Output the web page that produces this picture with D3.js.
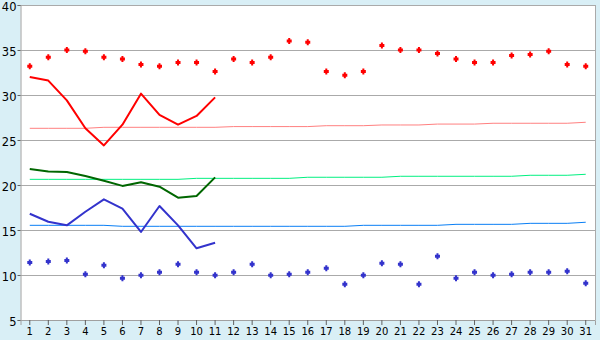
<!DOCTYPE html>
<html><head><meta charset="utf-8">
<script src="https://cdn.jsdelivr.net/npm/d3@7"></script>
<style>
html,body{margin:0;padding:0;background:#d9eff6;}
svg{display:block;}
</style></head>
<body>
<svg id="chart" width="600" height="340"></svg>
<script>
const days = d3.range(1, 32);
const yTicks = [5, 10, 15, 20, 25, 30, 35, 40];

// daily maximum (red markers)
const maxTemps = [33.2, 34.2, 35.0, 34.85, 34.2, 34.0, 33.4, 33.2, 33.6, 33.6, 32.6, 34.0, 33.6, 34.2, 36.0, 35.85,
  32.6, 32.2, 32.6, 35.5, 35.0, 35.0, 34.6, 34.0, 33.6, 33.6, 34.4, 34.5, 34.85, 33.4, 33.2];
// daily minimum (blue markers)
const minTemps = [11.4, 11.5, 11.6, 10.07, 11.08, 9.63, 9.97, 10.3, 11.19, 10.3, 9.97, 10.3, 11.19, 9.97, 10.07, 10.3,
  10.74, 8.97, 9.97, 11.3, 11.19, 8.97, 12.08, 9.63, 10.3, 9.97, 10.07, 10.3, 10.3, 10.41, 9.08];
// partial-month lines (days 1-11)
const redLine = [32.0, 31.6, 29.4, 26.3, 24.4, 26.7, 30.15, 27.8, 26.7, 27.67, 29.74];
const greenLine = [21.78, 21.5, 21.44, 21.0, 20.48, 19.9, 20.3, 19.81, 18.59, 18.78, 20.85];
const blueLine = [16.81, 15.92, 15.52, 17.03, 18.41, 17.37, 14.78, 17.67, 15.52, 12.97, 13.59];
// normals
const normalMax = [26.30, 26.30, 26.30, 26.30, 26.41, 26.41, 26.41, 26.41, 26.41, 26.41, 26.41, 26.49, 26.49, 26.49, 26.49, 26.49,
  26.59, 26.59, 26.59, 26.67, 26.67, 26.67, 26.77, 26.77, 26.77, 26.86, 26.86, 26.86, 26.86, 26.86, 26.97];
const normalMean = [20.63, 20.63, 20.63, 20.63, 20.63, 20.63, 20.63, 20.63, 20.63, 20.74, 20.74, 20.74, 20.74, 20.74, 20.74, 20.86,
  20.86, 20.86, 20.86, 20.86, 20.97, 20.97, 20.97, 20.97, 20.97, 20.97, 20.97, 21.08, 21.08, 21.08, 21.19];
const normalMin = [15.52, 15.52, 15.52, 15.52, 15.52, 15.41, 15.41, 15.41, 15.41, 15.41, 15.41, 15.41, 15.41, 15.41, 15.41, 15.41,
  15.41, 15.41, 15.52, 15.52, 15.52, 15.52, 15.52, 15.63, 15.63, 15.63, 15.63, 15.74, 15.74, 15.74, 15.86];

const W = 600, H = 340;
const m = {left: 20.5, right: 5, top: 5, bottom: 20};
const svg = d3.select("#chart");

const x = d3.scaleBand().domain(days).range([m.left, W - m.right]).padding(0);
const cx = d => x(d) + x.bandwidth() / 2;
const y = d3.scaleLinear().domain([5, 40]).range([H - m.bottom, m.top]);

// plot background
svg.append("rect").attr("x", m.left).attr("y", m.top)
  .attr("width", W - m.right - m.left).attr("height", H - m.bottom - m.top).attr("fill", "#ffffff");

// grid
svg.append("g").selectAll("line").data(yTicks.filter(t => t > 5)).join("line")
  .attr("x1", m.left).attr("x2", W - m.right)
  .attr("y1", d => Math.round(y(d)) + 0.5).attr("y2", d => Math.round(y(d)) + 0.5)
  .attr("stroke", "#aaaaaa").attr("stroke-width", 1);
// right border
svg.append("line").attr("x1", W - m.right + 0.5).attr("x2", W - m.right + 0.5)
  .attr("y1", m.top).attr("y2", H - m.bottom).attr("stroke", "#aaaaaa");

// axes
const yAxis = svg.append("g").attr("transform", `translate(${m.left},0)`)
  .call(d3.axisLeft(y).tickValues(yTicks).tickSize(3).tickPadding(1).tickFormat(d3.format("d")));
yAxis.selectAll("text").attr("font-family", "DejaVu Sans").attr("font-size", 11.5)
  .attr("dy", "0.45em").attr("fill", "#000");
const xAxis = svg.append("g").attr("transform", `translate(0,${H - m.bottom})`)
  .call(d3.axisBottom(x).tickSize(5).tickPadding(3));
xAxis.selectAll("text").attr("font-family", "DejaVu Sans").attr("font-size", 10).attr("fill", "#000");
svg.selectAll(".domain").attr("stroke", "#a0a0a0");
svg.selectAll(".tick line").attr("stroke", "#606060");

const line = d3.line().x((d, i) => cx(days[i])).y(d => y(d));

function drawLine(data, color, w) {
  svg.append("path").datum(data).attr("d", line).attr("fill", "none")
    .attr("stroke", color).attr("stroke-width", w).attr("stroke-linejoin", "round");
}
drawLine(normalMax, "#ff8080", 1);
drawLine(normalMean, "#00f080", 1);
drawLine(normalMin, "#0a7ff5", 1);
drawLine(redLine, "#ff0000", 2);
drawLine(greenLine, "#006600", 2);
drawLine(blueLine, "#3333cc", 2);

const marker = "M-1,-3h2v1.5h1.5v3h-1.5v1.5h-2v-1.5h-1.5v-3h1.5z";
function drawMarkers(data, color) {
  svg.append("g").selectAll("path").data(data).join("path")
    .attr("d", marker).attr("transform", (d, i) => `translate(${cx(days[i])},${y(d)})`)
    .attr("fill", color);
}
drawMarkers(maxTemps, "#ff0000");
drawMarkers(minTemps, "#3333cc");
</script>
</body></html>
